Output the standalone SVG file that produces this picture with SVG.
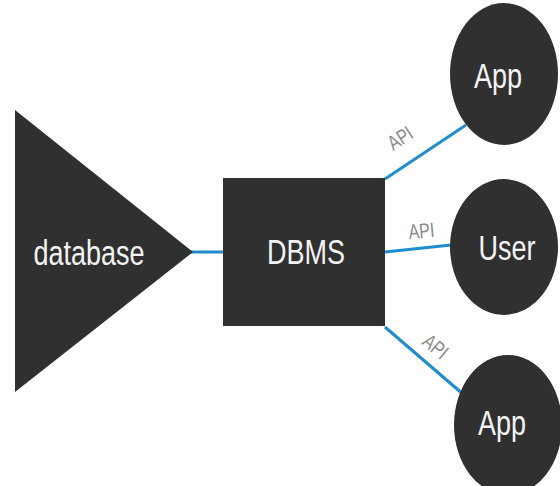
<svg xmlns="http://www.w3.org/2000/svg" width="560" height="486" viewBox="0 0 560 486">
<style>
.shape{fill:#303030;}
.lbl{fill:#f2f2f2;font-family:"Liberation Sans",Arial,sans-serif;font-size:27px;text-anchor:middle;}
.api{fill:#8a8a8a;font-family:"Liberation Sans",Arial,sans-serif;font-size:16px;text-anchor:middle;}
.conn{stroke:#1f8ccc;stroke-width:3;fill:none;}
</style>
<rect width="560" height="486" fill="#ffffff"/>
<g id="connectors">
<line class="conn" x1="190" y1="252" x2="224" y2="252"/>
<line class="conn" x1="385" y1="179" x2="466" y2="125"/>
<line class="conn" x1="385" y1="252" x2="451" y2="245"/>
<line class="conn" x1="385" y1="327" x2="464" y2="395"/>
<text class="api" transform="translate(404,144) rotate(-33) scale(1,1.3)">API</text>
<text class="api" transform="translate(422,238) rotate(-5) scale(1,1.3)">API</text>
<text class="api" transform="translate(431,352) rotate(40) scale(1,1.3)">API</text>
</g>
<g id="database">
<polygon class="shape" points="15,110 193,252 15,392"/>
<text class="lbl" transform="translate(89,265) scale(1,1.3)">database</text>
</g>
<g id="dbms">
<rect class="shape" x="223" y="178" width="162" height="148"/>
<text class="lbl" transform="translate(306,264) scale(1,1.3)">DBMS</text>
</g>
<g id="app-top">
<ellipse class="shape" cx="504" cy="74" rx="54" ry="71"/>
<text class="lbl" transform="translate(498,88) scale(1,1.3)">App</text>
</g>
<g id="user">
<ellipse class="shape" cx="504" cy="247" rx="54" ry="68"/>
<text class="lbl" transform="translate(507,260) scale(1,1.3)">User</text>
</g>
<g id="app-bottom">
<ellipse class="shape" cx="508" cy="425" rx="54" ry="70"/>
<text class="lbl" transform="translate(502,435) scale(1,1.3)">App</text>
</g>
</svg>
